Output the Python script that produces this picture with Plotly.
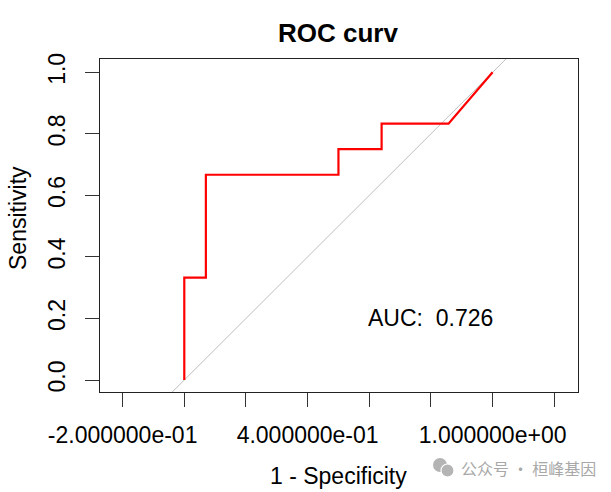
import plotly.graph_objects as go

# ROC curve values
fpr = [0.0, 0.0, 0.07, 0.07, 0.5, 0.5, 0.64, 0.64, 0.857, 1.0]
tpr = [0.0, 0.333, 0.333, 0.667, 0.667, 0.75, 0.75, 0.833, 0.833, 1.0]
diag_x = [-1.0, 2.0]
diag_y = [-1.0, 2.0]
auc_value = 0.726
auc_pos = [0.8, 0.2]

x_tickvals = [-0.2, 0.0, 0.2, 0.4, 0.6, 0.8, 1.0, 1.2]
x_ticktext = ["-2.000000e-01", "", "", "4.000000e-01", "", "", "1.000000e+00", ""]
y_tickvals = [0.0, 0.2, 0.4, 0.6, 0.8, 1.0]
y_ticktext = ["0.0", "0.2", "0.4", "0.6", "0.8", "1.0"]

FONT = "Liberation Sans, Arial, sans-serif"
W, H = 611, 492
L, R, T, B = 100, 33, 59, 100
PW, PH = W - L - R, H - T - B


def px_x(p):
    return (p - L) / PW


def px_y(p):
    return (H - B - p) / PH


fig = go.Figure()
fig.add_trace(go.Scatter(x=diag_x, y=diag_y, mode="lines",
                         line=dict(color="#bebebe", width=1), hoverinfo="skip"))
fig.add_trace(go.Scatter(x=fpr, y=tpr, mode="lines",
                         line=dict(color="#ff0000", width=2.2)))

fig.add_annotation(x=auc_pos[0], y=auc_pos[1], xref="x", yref="y",
                   text=f"AUC:  {auc_value:.3f}", showarrow=False,
                   font=dict(family=FONT, size=23, color="black"),
                   xanchor="center", yanchor="middle")

# axis titles
fig.add_annotation(x=px_x(338), y=px_y(475.7), xref="paper", yref="paper",
                   text="1 - Specificity", showarrow=False,
                   font=dict(family=FONT, size=23, color="black"),
                   xanchor="center", yanchor="middle")
fig.add_annotation(x=px_x(18), y=px_y(218), xref="paper", yref="paper",
                   text="Sensitivity", showarrow=False, textangle=-90,
                   font=dict(family=FONT, size=23, color="black"),
                   xanchor="center", yanchor="middle")

# watermark
fig.add_shape(type="circle", xref="paper", yref="paper",
              x0=px_x(433), x1=px_x(447), y0=px_y(472), y1=px_y(458),
              fillcolor="#b4b4b4", line=dict(color="#b4b4b4", width=0))
fig.add_shape(type="circle", xref="paper", yref="paper",
              x0=px_x(441), x1=px_x(454), y0=px_y(477), y1=px_y(464),
              fillcolor="#b4b4b4", line=dict(color="white", width=1.2))
fig.add_annotation(x=px_x(459), y=px_y(467.7), xref="paper", yref="paper",
                   text="公众号 · 桓峰基因", showarrow=False,
                   font=dict(family="Noto Sans CJK SC", size=16, color="#a8a8a8"),
                   xanchor="left", yanchor="middle")

fig.update_layout(
    width=W, height=H,
    margin=dict(l=L, r=R, t=T, b=B),
    paper_bgcolor="white", plot_bgcolor="white",
    showlegend=False,
    font=dict(family=FONT, size=23, color="black"),
    title=dict(text="<b>ROC curv</b>", x=338 / W, y=1 - 32.7 / H,
               xanchor="center", yanchor="middle",
               font=dict(family=FONT, size=26, color="black")),
    xaxis=dict(range=[-0.2734, 1.277], tickvals=x_tickvals, ticktext=x_ticktext,
               showgrid=False, zeroline=False, showline=True, mirror=True,
               linecolor="#222", linewidth=1, ticks="outside", ticklen=14,
               tickwidth=1, tickcolor="#333", ticklabelstandoff=8,
               tickfont=dict(family=FONT, size=23, color="black")),
    yaxis=dict(range=[-0.039, 1.0432], tickvals=y_tickvals, ticktext=y_ticktext,
               showgrid=False, zeroline=False, showline=True, mirror=True,
               linecolor="#222", linewidth=1, ticks="outside", ticklen=14,
               tickwidth=1, tickcolor="#333", tickangle=-90, ticklabelstandoff=11,
               tickfont=dict(family=FONT, size=23, color="black")),
)

fig.write_html("out.html",
               config={"displayModeBar": False},
               post_script="document.body.style.margin='0';document.body.style.overflow='hidden';")
